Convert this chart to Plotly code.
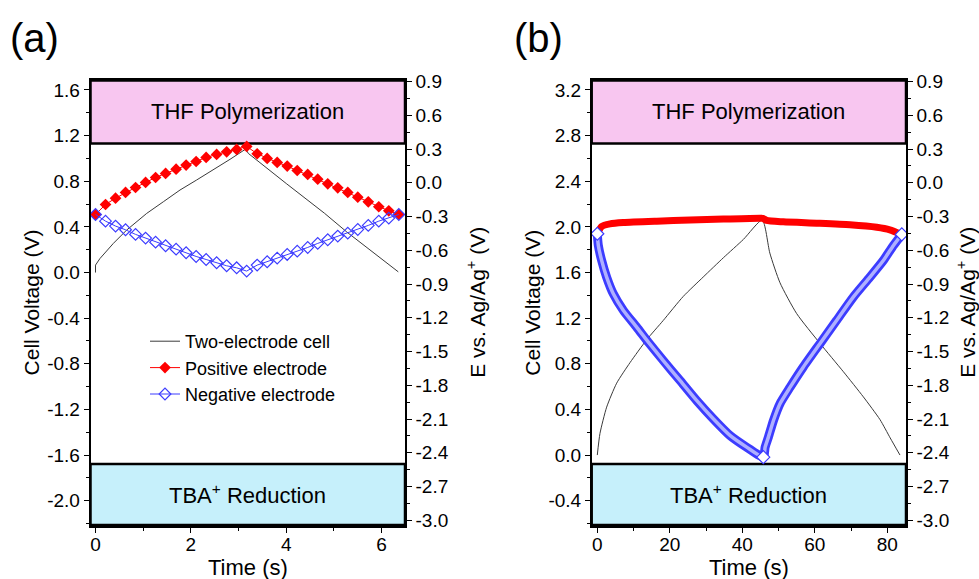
import plotly.graph_objects as go
import numpy as np

# ---------------- data: panel (a) ----------------
t_cell_a = [0, 0, 0.094, 0.374, 0.653, 1.073, 1.422, 1.772, 2.121, 2.471, 2.820, 3.149,
            3.204, 4.0, 4.8, 5.27, 5.8, 6.349]
v_cell_a = [0.0, 0.065, 0.123, 0.255, 0.372, 0.518, 0.620, 0.723, 0.811, 0.898, 0.992, 1.082,
            1.044, 0.78, 0.52, 0.355, 0.185, 0.006]

t_elec_a = [0, 0.21, 0.42, 0.63, 0.84, 1.05, 1.26, 1.47, 1.69, 1.90, 2.11, 2.32, 2.54, 2.75,
            2.96, 3.17, 3.39, 3.60, 3.81, 4.02, 4.23, 4.45, 4.66, 4.87, 5.08, 5.29, 5.50,
            5.72, 5.94, 6.15, 6.36]
pos_a = [-0.282, -0.193, -0.137, -0.086, -0.042, 0.003, 0.047, 0.083, 0.121, 0.157, 0.189,
         0.225, 0.252, 0.275, 0.296, 0.323, 0.258, 0.216, 0.181, 0.148, 0.109, 0.074, 0.032,
         -0.009, -0.045, -0.086, -0.128, -0.169, -0.213, -0.249, -0.282]
neg_a = [-0.282, -0.341, -0.385, -0.418, -0.459, -0.492, -0.528, -0.560, -0.590, -0.622,
         -0.655, -0.682, -0.711, -0.738, -0.756, -0.785, -0.732, -0.702, -0.670, -0.637,
         -0.608, -0.575, -0.539, -0.507, -0.474, -0.448, -0.415, -0.379, -0.341, -0.314,
         -0.282]

# ---------------- data: panel (b) ----------------
t_cell_b = [0, 0.74, 2.58, 5.34, 9.02, 13.6, 18.2, 23.7, 29.2, 34.8, 40.3, 45.5, 47.6, 50.4,
            55.0, 61.4, 67.9, 73.4, 78.0, 80.8, 83.5]
v_cell_b = [0.0, 0.19, 0.42, 0.63, 0.81, 1.01, 1.18, 1.39, 1.56, 1.73, 1.89, 2.06, 1.77, 1.51,
            1.24, 0.98, 0.73, 0.51, 0.31, 0.15, 0.0]

t_pos_b = [0, 1.2, 3.5, 7.2, 16.4, 25.6, 34.8, 45.3, 45.8, 46.7, 51.3, 60.5, 69.7, 77.1,
           80.7, 83.9]
pos_b = [-0.45, -0.388, -0.365, -0.353, -0.341, -0.332, -0.323, -0.315, -0.318, -0.335,
         -0.347, -0.359, -0.373, -0.395, -0.418, -0.459]

t_neg_b = [0, 0.28, 1.2, 2.58, 4.42, 7.2, 10.86, 14.08, 18.2, 22.8, 27.4, 32.0, 36.6, 41.2,
           45.8, 46.3, 47.2, 48.6, 50.4, 53.2, 56.8, 61.4, 66.0, 70.6, 75.2, 78.9, 81.7, 84.0]
neg_b = [-0.453, -0.557, -0.690, -0.839, -0.987, -1.135, -1.283, -1.417, -1.580, -1.757,
         -1.935, -2.098, -2.246, -2.350, -2.439, -2.350, -2.261, -2.113, -1.964, -1.817,
         -1.639, -1.431, -1.224, -1.017, -0.839, -0.691, -0.557, -0.459]

# electrochemical window limits (V vs Ag/Ag+)
thf_limit = 0.35
tba_limit = -2.5

# tick labels
left_a_labels = ["-2.0", "-1.6", "-1.2", "-0.8", "-0.4", "0.0", "0.4", "0.8", "1.2", "1.6"]
left_b_labels = ["-0.4", "0.0", "0.4", "0.8", "1.2", "1.6", "2.0", "2.4", "2.8", "3.2"]
right_labels = ["-3.0", "-2.7", "-2.4", "-2.1", "-1.8", "-1.5", "-1.2", "-0.9", "-0.6",
                "-0.3", "0.0", "0.3", "0.6", "0.9"]
xa_labels = ["0", "2", "4", "6"]
xb_labels = ["0", "20", "40", "60", "80"]

# ---------------- styling ----------------
FONT = "Liberation Sans, Arial, sans-serif"
W, H = 979, 579
xa_range = [-0.105, 6.49]
xb_range = [-1.545, 85.16]
ya_range = [-2.213, 1.683]
yb_range = [-0.613, 3.283]
yr_range = [-3.042, 0.909]
dom_xa = [90.5 / W, 405 / W]
dom_xb = [591.7 / W, 906 / W]
dom_y = [1 - 525 / H, 1 - 80.5 / H]

RED = "#ff0000"
BLUE = "#3c3cff"
CELL = "#3a3a3a"
PINK = "rgb(248,198,240)"
CYAN = "rgb(198,240,251)"

fig = go.Figure()

# panel (a)
fig.add_trace(go.Scatter(x=t_cell_a, y=v_cell_a, xaxis="x", yaxis="y", mode="lines",
                         line=dict(color=CELL, width=1), name="Two-electrode cell"))
fig.add_trace(go.Scatter(x=t_elec_a, y=pos_a, xaxis="x", yaxis="y2", mode="lines+markers",
                         line=dict(color=RED, width=1),
                         marker=dict(symbol="diamond", size=9, color=RED),
                         name="Positive electrode"))
fig.add_trace(go.Scatter(x=t_elec_a, y=neg_a, xaxis="x", yaxis="y2", mode="lines+markers",
                         line=dict(color=BLUE, width=1),
                         marker=dict(symbol="diamond-open", size=9, color=BLUE,
                                     line=dict(width=1.2)),
                         name="Negative electrode"))

# panel (b)
SPL = dict(shape="spline", smoothing=0.6)
fig.add_trace(go.Scatter(x=t_cell_b, y=v_cell_b, xaxis="x2", yaxis="y3", mode="lines",
                         line=dict(color=CELL, width=1, **SPL), showlegend=False))
fig.add_trace(go.Scatter(x=t_pos_b, y=pos_b, xaxis="x2", yaxis="y4", mode="lines",
                         line=dict(color=RED, width=7, **SPL), showlegend=False))
fig.add_trace(go.Scatter(x=t_neg_b, y=neg_b, xaxis="x2", yaxis="y4", mode="lines",
                         line=dict(color=BLUE, width=9, **SPL), showlegend=False))
fig.add_trace(go.Scatter(x=t_neg_b, y=neg_b, xaxis="x2", yaxis="y4", mode="lines",
                         line=dict(color="#aeb0ff", width=3.5, **SPL), showlegend=False))
imin = int(np.argmin(neg_b))
end_idx = [0, imin, len(neg_b) - 1]
fig.add_trace(go.Scatter(x=[t_neg_b[i] for i in end_idx], y=[neg_b[i] for i in end_idx],
                         xaxis="x2", yaxis="y4", mode="markers",
                         marker=dict(symbol="diamond", size=10, color="white",
                                     line=dict(color=BLUE, width=1.2)),
                         showlegend=False))

tickfont = dict(family=FONT, size=19, color="black")


def xaxis_cfg(domain, rng, labels, minor_dt, anchor):
    return dict(domain=domain, range=rng, anchor=anchor, automargin=False,
                tickmode="array", tickvals=[float(s) for s in labels], ticktext=labels,
                ticks="outside", ticklen=5, tickwidth=1, tickcolor="black",
                ticklabelstandoff=-5,
                minor=dict(ticks="outside", ticklen=3, tickwidth=1, tickcolor="black",
                           dtick=minor_dt, tick0=0),
                showline=True, linewidth=2.5, linecolor="black", mirror=True,
                showgrid=False, zeroline=False, tickfont=tickfont)


def yaxis_cfg(domain, rng, labels, minor_dt, anchor, side="left", overlaying=None):
    d = dict(range=rng, anchor=anchor, side=side, automargin=False,
             tickmode="array", tickvals=[float(s) for s in labels], ticktext=labels,
             ticks="outside", ticklen=5, tickwidth=1, tickcolor="black",
             minor=dict(ticks="outside", ticklen=3, tickwidth=1, tickcolor="black",
                        dtick=minor_dt, tick0=0),
             showline=True, linewidth=1.5, linecolor="black",
             showgrid=False, zeroline=False, tickfont=tickfont)
    if overlaying:
        d["overlaying"] = overlaying
    else:
        d["domain"] = domain
    return d


shapes = []
for xname, yname, xr in [("x", "y2", xa_range), ("x2", "y4", xb_range)]:
    shapes.append(dict(type="rect", xref=xname, yref=yname, x0=xr[0], x1=xr[1],
                       y0=thf_limit, y1=yr_range[1], fillcolor=PINK,
                       line=dict(color="black", width=2.5), layer="below"))
    shapes.append(dict(type="rect", xref=xname, yref=yname, x0=xr[0], x1=xr[1],
                       y0=yr_range[0], y1=tba_limit, fillcolor=CYAN,
                       line=dict(color="black", width=2.5), layer="below"))

ann = []


def txt(x, y, s, size, angle=0):
    ann.append(dict(x=x, y=y, xref="paper", yref="paper", text=s, showarrow=False,
                    xanchor="center", yanchor="middle", textangle=angle,
                    font=dict(family=FONT, size=size, color="black")))


ymid = 1 - 302.75 / H
for dom, lab, lx, rx in [(dom_xa, "(a)", 34, 476), (dom_xb, "(b)", 538, 966)]:
    cx = (dom[0] + dom[1]) / 2
    txt(lx / W, 1 - 38 / H, lab, 40)
    txt(cx, 1 - 111.5 / H, "THF Polymerization", 22)
    txt(cx, 1 - 494 / H, "TBA<sup>+</sup> Reduction", 22)
    txt(cx, 1 - 567 / H, "Time (s)", 22)
    txt(rx / W, ymid, "E vs. Ag/Ag<sup>+</sup> (V)", 21, -90)
txt(31.7 / W, ymid, "Cell Voltage (V)", 21, -90)
txt(533 / W, ymid, "Cell Voltage (V)", 21, -90)

fig.update_layout(
    template="none",
    width=W, height=H, margin=dict(l=0, r=0, t=0, b=0, pad=0, autoexpand=False),
    paper_bgcolor="white", plot_bgcolor="white",
    font=dict(family=FONT, size=19, color="black"),
    xaxis=xaxis_cfg(dom_xa, xa_range, xa_labels, 1, "y"),
    yaxis=yaxis_cfg(dom_y, ya_range, left_a_labels, 0.2, "x"),
    yaxis2=yaxis_cfg(dom_y, yr_range, right_labels, 0.15, "x", side="right", overlaying="y"),
    xaxis2=xaxis_cfg(dom_xb, xb_range, xb_labels, 10, "y3"),
    yaxis3=yaxis_cfg(dom_y, yb_range, left_b_labels, 0.2, "x2"),
    yaxis4=yaxis_cfg(dom_y, yr_range, right_labels, 0.15, "x2", side="right", overlaying="y3"),
    shapes=shapes, annotations=ann,
    showlegend=True,
    legend=dict(x=145 / W, y=1 - 323 / H, xanchor="left", yanchor="top",
                bgcolor="rgba(0,0,0,0)", font=dict(family=FONT, size=18, color="black"),
                tracegroupgap=0, itemwidth=30),
)

fig.write_html("out.html")
